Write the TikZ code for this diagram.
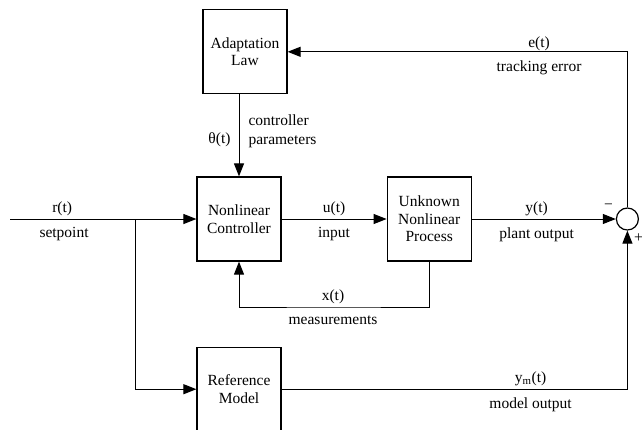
\documentclass[tikz,border=0pt]{standalone}
\usepackage{fontspec}
\setmainfont{Liberation Serif}
\usepackage{xcolor}
\usepackage{tikz}
\usetikzlibrary{positioning,calc,arrows.meta}

\begin{document}
\begin{tikzpicture}[
    x=1pt, y=-1pt,
    font=\fontsize{15.5}{17.5}\selectfont,
    block/.style={draw, line width=1.2pt, align=center, minimum width=84pt, minimum height=84pt, inner sep=2pt},
    sumnode/.style={draw, circle, line width=1.2pt, minimum size=22pt, inner sep=0pt},
    arrow/.style={-{Triangle[length=13pt, width=10pt]}, line width=1pt},
    top/.style={above, inner sep=3pt},
    bot/.style={below, inner sep=3pt, yshift=-5pt}
]
\useasboundingbox (0,0) rectangle (642,429);

\node[block] (ctrl) at (239,219) {Nonlinear\\Controller};
\node[block, right=105pt of ctrl] (proc) {Unknown\\Nonlinear\\Process};
\node[block, above=82pt of ctrl, xshift=6pt] (adapt) {Adaptation\\Law};
\node[block, below=85pt of ctrl] (ref) {Reference\\Model};
\node[sumnode, right=144pt of proc] (sum) {};

\coordinate (in) at (10,219);
\coordinate (split) at (135,219);
\coordinate (meas) at (333,307);

% setpoint and reference branch
\draw[arrow] (in) -- node[top, pos=0.28] (rlbl) {r(t)} node[bot, pos=0.29] (splbl) {setpoint} (ctrl.west);
\draw[arrow] (split) |- (ref.west);

% forward path
\draw[arrow] (ctrl.east) -- node[top] (ulbl) {u(t)} node[bot] (inlbl) {input} (proc.west);
\draw[arrow] (proc.east) -- node[top, pos=0.45] (ylbl) {y(t)} node[bot, pos=0.45] (polbl) {plant output} (sum.west);

% measurements fed back
\draw[arrow] (proc.south) |- (meas) node[top] (xlbl) {x(t)} node[bot] (mlbl) {measurements} -| (ctrl.south);

% adaptation loop
\draw[arrow] (sum.north) |- node[top, pos=0.63, yshift=-2pt] (elbl) {e(t)} node[bot, pos=0.63] (telbl) {tracking error} (adapt.east);
\draw[arrow] (ctrl.north |- adapt.south) -- node[left, inner sep=8pt, yshift=-4pt] (thlbl) {θ(t)} node[right, inner sep=9pt, align=left, yshift=4pt] (cplbl) {controller\\[1pt]parameters} (ctrl.north);

% model output
\draw[arrow] (ref.east) -| node[top, pos=0.36] (ymlbl) {y\textsubscript{m}(t)} node[bot, pos=0.36] (molbl) {model output} (sum.south);

\node (minus) at ($(sum)+(-19,-12)$) {−};
\node (plus) at ($(sum)+(11,19)$) {+};
\end{tikzpicture}
\end{document}
